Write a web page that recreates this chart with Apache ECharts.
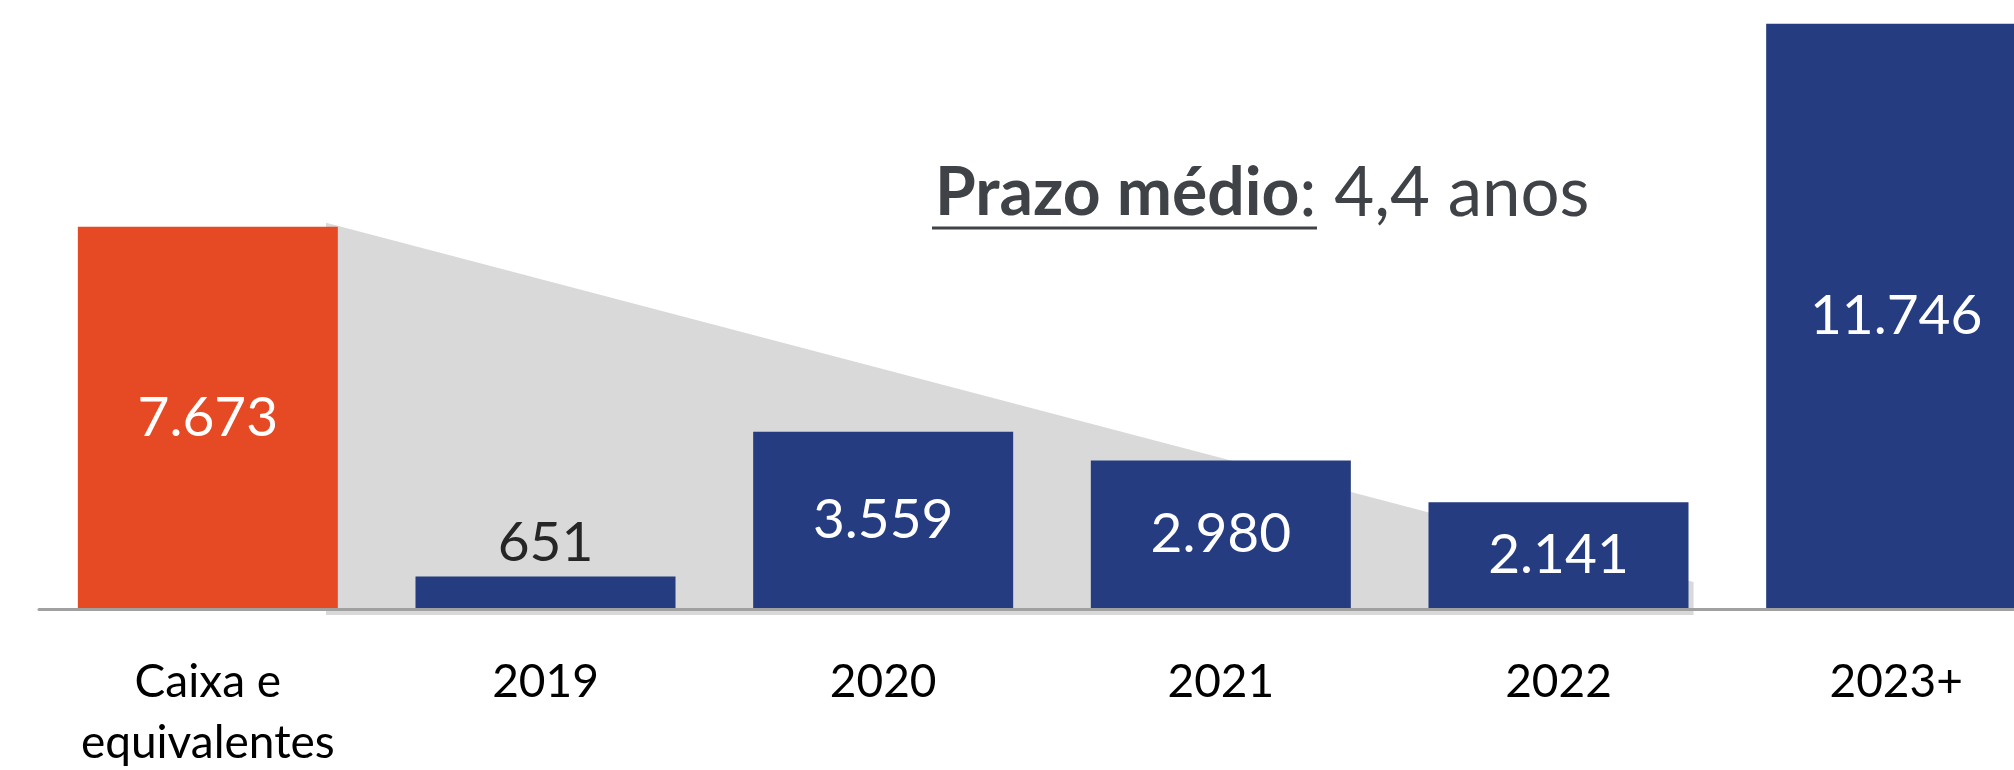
<!DOCTYPE html>
<html>
<head>
<meta charset="utf-8">
<script src="https://cdn.jsdelivr.net/npm/echarts@6/dist/echarts.min.js"></script>
<style>
  html, body { margin: 0; padding: 0; background: #fff; }
  #chart { width: 2014px; height: 770px; }
</style>
</head>
<body>
<div id="chart"></div>
<script>
// categorias e valores (R$ milhões)
const categories = ["Caixa e\nequivalentes", "2019", "2020", "2021", "2022", "2023+"];
const amounts = [7673, 651, 3559, 2980, 2141, 11746];
// faixa cinza atrás das barras: [posição no eixo, valor]
const runoffTop = [[0.35, 7750], [4.4, 540]];
const runoffBase = -120;
const yMax = 12000;
const titleBold = "Prazo médio";
const titleRest = ": 4,4 anos";

const RED = "#E64A25";
const BLUE = "#253C80";
const FONT = "Lato";

function fmt(v) {
  return String(v).replace(/\B(?=(\d{3})+(?!\d))/g, ".");
}

const chart = echarts.init(document.getElementById("chart"));

chart.setOption({
  animation: false,
  backgroundColor: "#fff",
  title: {
    text: `{b|${titleBold}}{r|${titleRest}}`,
    left: 930,
    top: 154,
    textStyle: {
      fontWeight: "normal",
      rich: {
        b: { fontFamily: FONT, fontSize: 66, fontWeight: "bold", color: "#3F4246" },
        r: { fontFamily: FONT, fontSize: 69, fontWeight: "normal", color: "#3F4246" },
      },
    },
  },
  graphic: [
    {
      type: "line",
      shape: { x1: 932, y1: 228, x2: 1317, y2: 228 },
      style: { stroke: "#3F4246", lineWidth: 3 },
    },
  ],
  grid: { left: 39, width: 2026, top: 11, bottom: 161, outerBoundsMode: "none", containLabel: false },
  xAxis: [
    {
      type: "category",
      data: categories,
      z: 5,
      offset: 1,
      axisLine: { lineStyle: { color: "#A0A0A0", width: 3 } },
      axisTick: { show: false },
      axisLabel: {
        interval: 0,
        margin: 42,
        fontFamily: FONT,
        fontSize: 46,
        lineHeight: 61,
        color: "#000",
      },
    },
    {
      type: "value",
      min: -0.5,
      max: 5.5,
      show: false,
    },
  ],
  yAxis: {
    type: "value",
    min: 0,
    max: yMax,
    show: false,
    splitLine: { show: false },
  },
  series: [
    {
      type: "custom",
      xAxisIndex: 1,
      yAxisIndex: 0,
      z: 1,
      silent: true,
      data: [0],
      renderItem(params, api) {
        const pts = runoffTop.map((p) => api.coord(p));
        const last = runoffTop[runoffTop.length - 1];
        const first = runoffTop[0];
        pts.push(api.coord([last[0], runoffBase]));
        pts.push(api.coord([first[0], runoffBase]));
        return {
          type: "polygon",
          shape: { points: pts },
          style: { fill: "#D9D9D9" },
        };
      },
    },
    {
      type: "bar",
      z: 2,
      barCategoryGap: "23%",
      data: amounts.map((v, i) =>
        i === 1
          ? { value: v, label: { position: "top", distance: 6, color: "#262626" } }
          : v
      ),
      itemStyle: {
        color: (p) => (p.dataIndex === 0 ? RED : BLUE),
      },
      label: {
        show: true,
        position: "inside",
        fontFamily: FONT,
        fontSize: 55,
        color: "#fff",
        formatter: (p) => fmt(p.value),
      },
    },
  ],
});
</script>
</body>
</html>
